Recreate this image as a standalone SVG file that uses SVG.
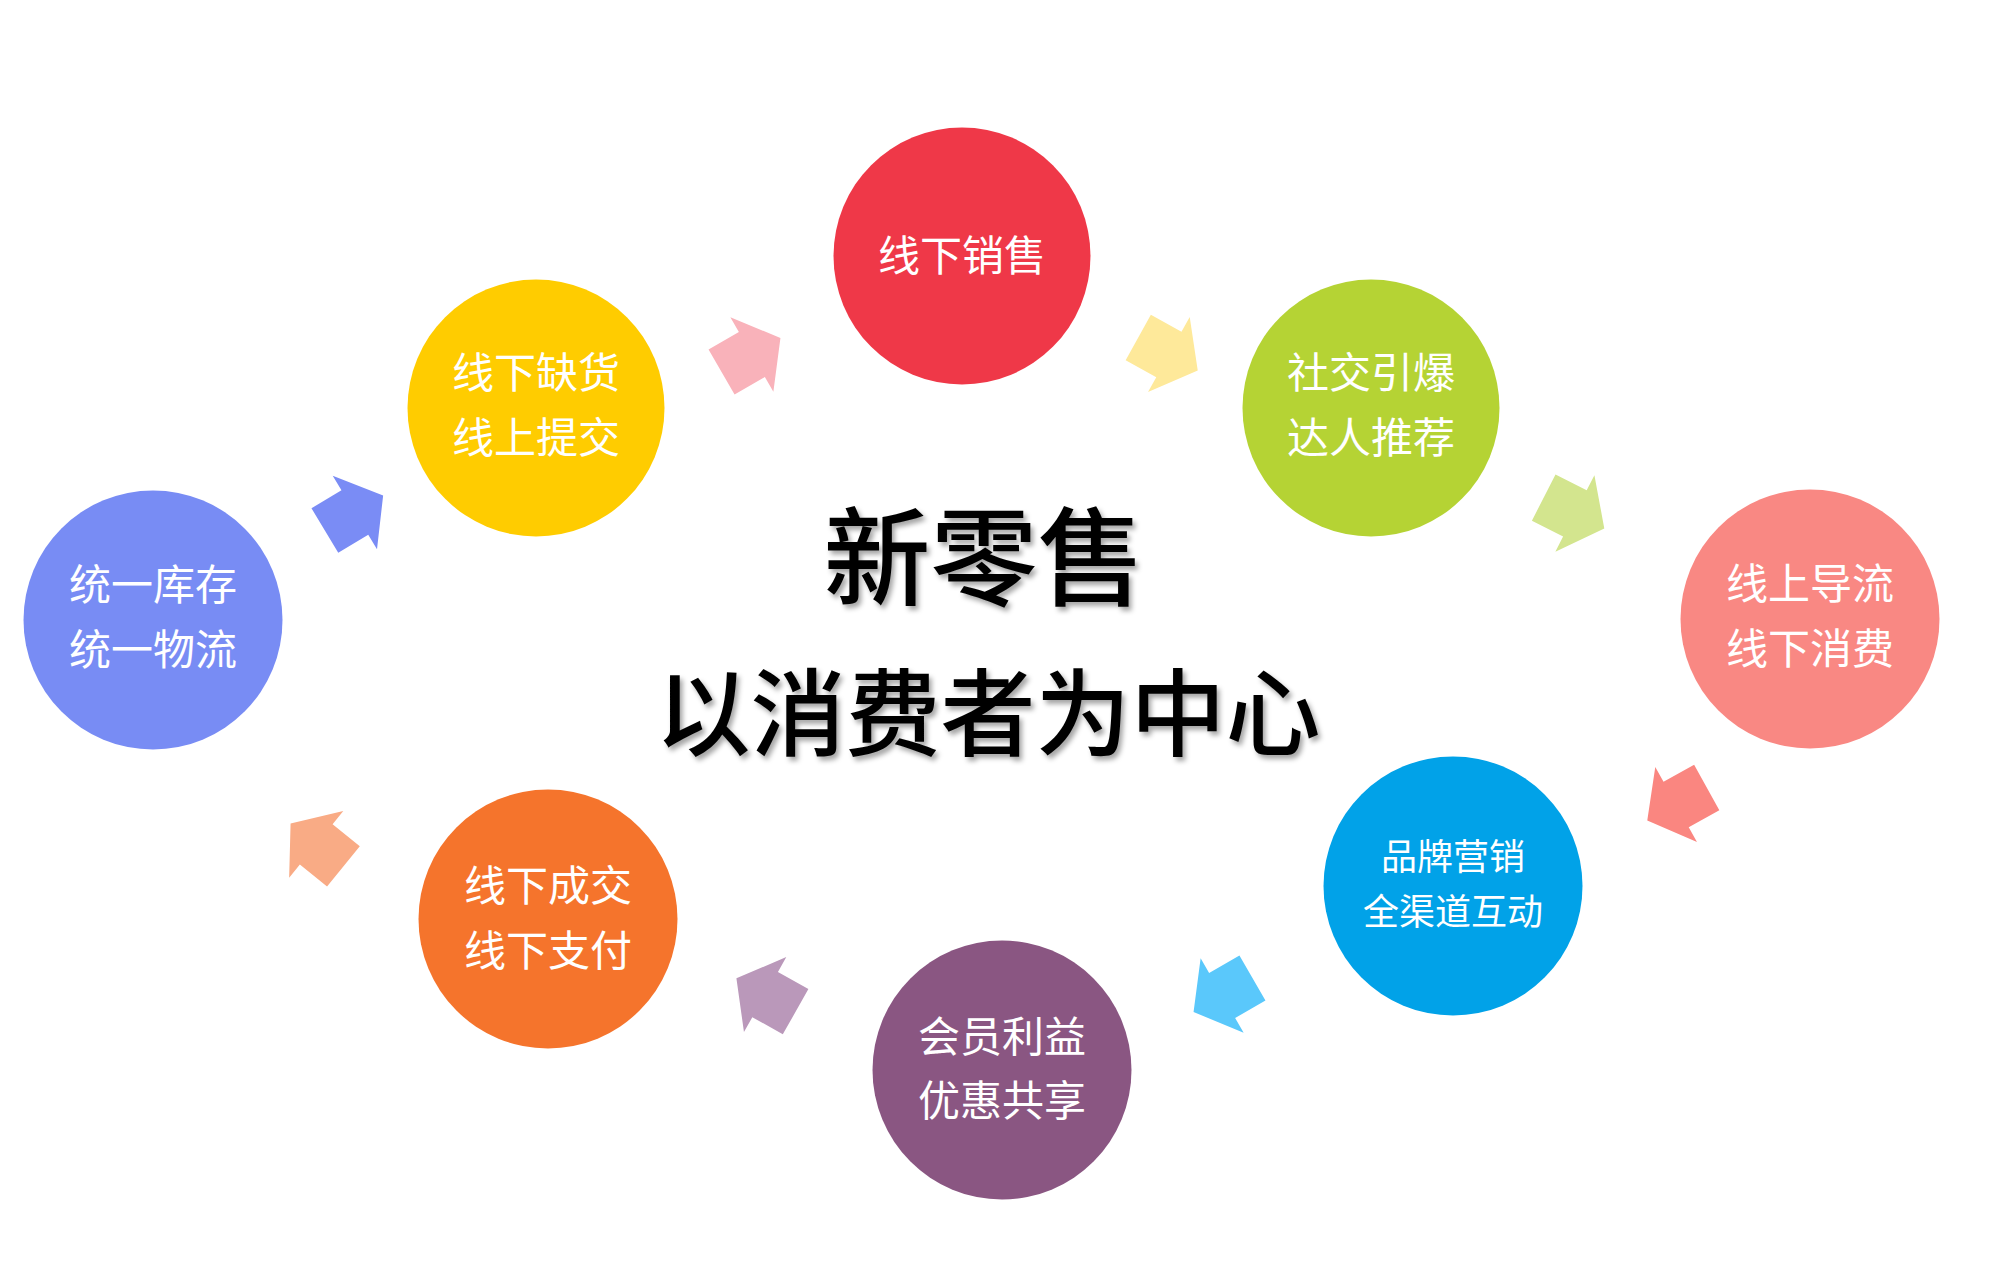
<svg xmlns="http://www.w3.org/2000/svg" xmlns:xlink="http://www.w3.org/1999/xlink" width="1993" height="1280" viewBox="0 0 1993 1280">
<defs>
<style>
.lbl{font-family:"Noto Sans CJK SC","Noto Sans",sans-serif;fill:#ffffff;font-size:42px;text-anchor:middle;}
.lbl.sm{font-size:36px;}
.ctr{font-family:"Noto Sans CJK SC","Noto Sans",sans-serif;fill:#000000;text-anchor:middle;font-weight:500;}
</style>
<path id="arr" d="M-34,-26 H1 V-43 L34,0 L1,43 V26 H-34 Z"/>
<filter id="sh" x="-10%" y="-20%" width="130%" height="150%">
<feGaussianBlur in="SourceAlpha" stdDeviation="2.5"/>
<feOffset dx="3" dy="4" result="b"/>
<feFlood flood-color="#000" flood-opacity="0.35"/>
<feComposite in2="b" operator="in" result="s"/>
<feMerge><feMergeNode in="s"/><feMergeNode in="SourceGraphic"/></feMerge>
</filter>
</defs>
<rect width="1993" height="1280" fill="#ffffff"/>

<g id="center-title" filter="url(#sh)">
<text class="ctr" x="984" y="597" font-size="107">新零售</text>
<text class="ctr" x="988" y="749" font-size="95">以消费者为中心</text>
</g>

<g id="connectors">
<use xlink:href="#arr" transform="translate(354,513) rotate(-31)" fill="#7a8cf5"/>
<use xlink:href="#arr" transform="translate(751,355) rotate(-30)" fill="#f9b2ba"/>
<use xlink:href="#arr" transform="translate(1168,354) rotate(29)" fill="#fee99a"/>
<use xlink:href="#arr" transform="translate(1574,513) rotate(27)" fill="#d3e58e"/>
<use xlink:href="#arr" transform="translate(1677,804) rotate(151)" fill="#fa8680"/>
<use xlink:href="#arr" transform="translate(1223,995) rotate(150)" fill="#5ac8fb"/>
<use xlink:href="#arr" transform="translate(766,995) rotate(-150.5)" fill="#ba98ba"/>
<use xlink:href="#arr" transform="translate(317,845) rotate(-141)" fill="#f9ab85"/>
</g>

<g id="node-offline-sales">
<circle cx="962" cy="256" r="128.5" fill="#ef3848"/>
<text class="lbl" x="962" y="271">线下销售</text>
</g>

<g id="node-out-of-stock">
<circle cx="536" cy="408" r="128.5" fill="#ffcc00"/>
<text class="lbl" x="536" y="388">线下缺货</text>
<text class="lbl" x="536" y="453">线上提交</text>
</g>

<g id="node-social">
<circle cx="1371" cy="408" r="128.5" fill="#b5d334"/>
<text class="lbl" x="1371" y="388">社交引爆</text>
<text class="lbl" x="1371" y="453">达人推荐</text>
</g>

<g id="node-inventory">
<circle cx="153" cy="620" r="129.5" fill="#788cf4"/>
<text class="lbl" x="153" y="600">统一库存</text>
<text class="lbl" x="153" y="665">统一物流</text>
</g>

<g id="node-online-traffic">
<circle cx="1810" cy="619" r="129.5" fill="#f98883"/>
<text class="lbl" x="1810" y="599">线上导流</text>
<text class="lbl" x="1810" y="664">线下消费</text>
</g>

<g id="node-brand">
<circle cx="1453" cy="886" r="129.5" fill="#01a2e8"/>
<text class="lbl sm" x="1453" y="870">品牌营销</text>
<text class="lbl sm" x="1453" y="925">全渠道互动</text>
</g>

<g id="node-member">
<circle cx="1002" cy="1070" r="129.5" fill="#8a5682"/>
<text class="lbl" x="1002" y="1052">会员利益</text>
<text class="lbl" x="1002" y="1116">优惠共享</text>
</g>

<g id="node-offline-deal">
<circle cx="548" cy="919" r="129.5" fill="#f5742c"/>
<text class="lbl" x="548" y="901">线下成交</text>
<text class="lbl" x="548" y="966">线下支付</text>
</g>
</svg>
